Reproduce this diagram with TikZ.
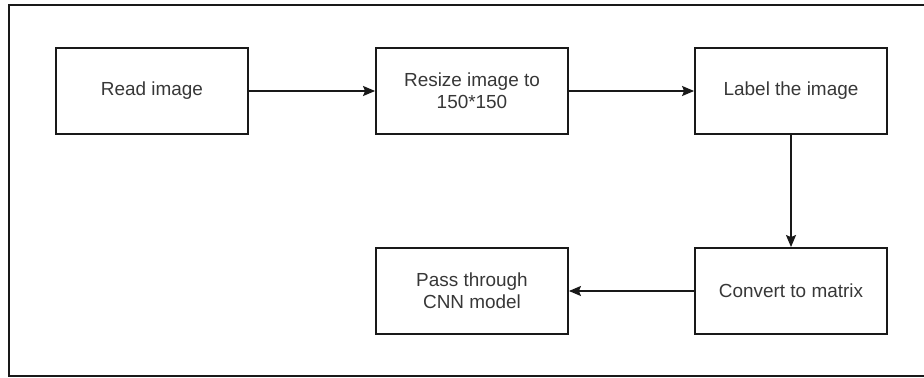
\documentclass[tikz,border=0pt]{standalone}
\usepackage{fontspec}
\setmainfont{Liberation Sans}
\usetikzlibrary{arrows.meta}

\definecolor{linegray}{RGB}{25,25,25}
\definecolor{textgray}{RGB}{55,55,55}

\tikzset{
  stepbox/.style={draw=linegray, line width=1.4pt, minimum width=144pt, minimum height=64.5pt,
    align=center, text=textgray, font=\fontsize{14.2}{16.5}\selectfont, inner sep=0pt},
  flow/.style={draw=linegray, line width=1.2pt, -{Stealth[length=9pt,width=7.5pt,inset=1.5pt]}}
}

\begin{document}
\begin{tikzpicture}[x=0.75pt,y=0.75pt,yscale=-1,xscale=1]
		%set diagram to 924 x 378
		\useasboundingbox (0,0) rectangle (924,378);
		\draw [draw=linegray, line width=1.4pt] (930,5) -- (9,5) -- (9,376) -- (930,376);
		
		\node [stepbox] (read) at (152,91) {Read image};
		\node [stepbox] (resize) at (472,91) {Resize image to\\150*150};
		\node [stepbox] (label) at (791,91) {Label the image};
		\node [stepbox] (convert) at (791,291) {Convert to matrix};
		\node [stepbox] (pass) at (472,291) {Pass through\\CNN model};
		
		\draw [flow] (read) -- (resize);
		\draw [flow] (resize) -- (label);
		\draw [flow] (label) -- (convert);
		\draw [flow] (convert) -- (pass);
		
\end{tikzpicture}
\end{document}
